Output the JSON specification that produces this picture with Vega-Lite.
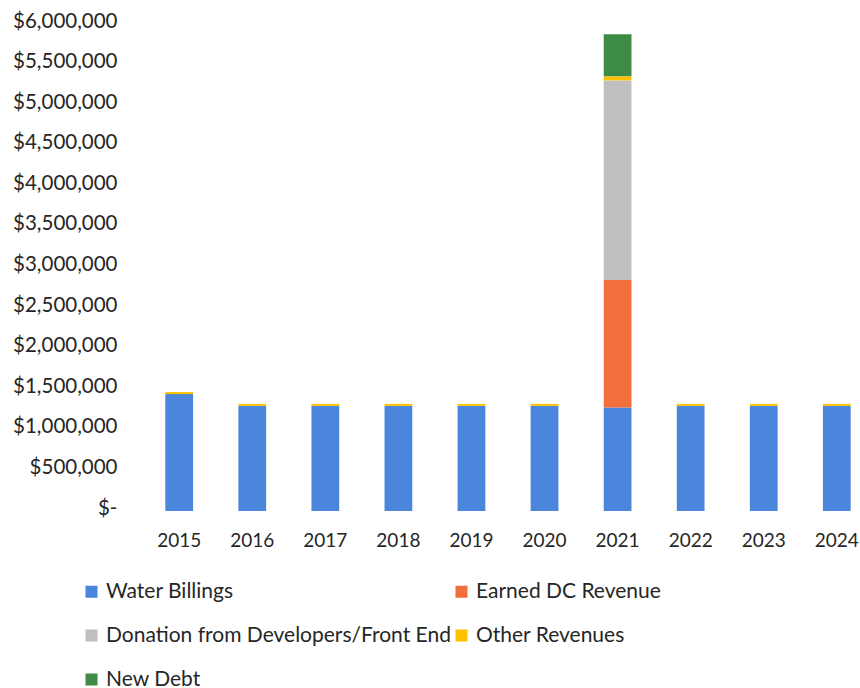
{
  "$schema": "https://vega.github.io/schema/vega-lite/v6.json",
  "width": 700,
  "height": 487,
  "autosize": {"type": "none"},
  "padding": {"left": 158, "top": 24, "right": 2, "bottom": 177},
  "background": "white",
  "config": {
    "view": {"stroke": null},
    "font": "Lato",
    "axis": {"labelFont": "Lato", "labelColor": "#262626", "grid": false, "domain": false, "ticks": false},
    "legend": {"labelFont": "Lato", "labelColor": "#262626"}
  },
  "data": {
    "values": [
      {"year": "2015", "source": "Water Billings", "amount": 1440000},
      {"year": "2015", "source": "Other Revenues", "amount": 25000},
      {"year": "2016", "source": "Water Billings", "amount": 1295000},
      {"year": "2016", "source": "Other Revenues", "amount": 25000},
      {"year": "2017", "source": "Water Billings", "amount": 1295000},
      {"year": "2017", "source": "Other Revenues", "amount": 25000},
      {"year": "2018", "source": "Water Billings", "amount": 1295000},
      {"year": "2018", "source": "Other Revenues", "amount": 25000},
      {"year": "2019", "source": "Water Billings", "amount": 1295000},
      {"year": "2019", "source": "Other Revenues", "amount": 25000},
      {"year": "2020", "source": "Water Billings", "amount": 1295000},
      {"year": "2020", "source": "Other Revenues", "amount": 25000},
      {"year": "2021", "source": "Water Billings", "amount": 1275000},
      {"year": "2021", "source": "Earned DC Revenue", "amount": 1570000},
      {"year": "2021", "source": "Donation from Developers/Front End", "amount": 2460000},
      {"year": "2021", "source": "Other Revenues", "amount": 50000},
      {"year": "2021", "source": "New Debt", "amount": 520000},
      {"year": "2022", "source": "Water Billings", "amount": 1295000},
      {"year": "2022", "source": "Other Revenues", "amount": 25000},
      {"year": "2023", "source": "Water Billings", "amount": 1295000},
      {"year": "2023", "source": "Other Revenues", "amount": 25000},
      {"year": "2024", "source": "Water Billings", "amount": 1295000},
      {"year": "2024", "source": "Other Revenues", "amount": 25000}
    ]
  },
  "transform": [
    {"calculate": "indexof(['Water Billings', 'Earned DC Revenue', 'Donation from Developers/Front End', 'Other Revenues', 'New Debt'], datum.source)", "as": "stackOrder"}
  ],
  "mark": {"type": "bar"},
  "encoding": {
    "x": {
      "field": "year",
      "type": "ordinal",
      "scale": {"paddingInner": 0.62, "paddingOuter": 0.1},
      "axis": {"title": null, "labelAngle": 0, "labelFontSize": 19, "labelPadding": 20}
    },
    "y": {
      "field": "amount",
      "type": "quantitative",
      "aggregate": "sum",
      "stack": "zero",
      "scale": {"domain": [0, 6000000], "nice": false},
      "axis": {
        "title": null,
        "values": [0, 500000, 1000000, 1500000, 2000000, 2500000, 3000000, 3500000, 4000000, 4500000, 5000000, 5500000, 6000000],
        "labelExpr": "datum.value === 0 ? '$-' : '$' + format(datum.value, ',')",
        "labelFontSize": 20.5,
        "labelPadding": 41,
        "labelOffset": -3
      }
    },
    "color": {
      "field": "source",
      "type": "nominal",
      "sort": ["Water Billings", "Earned DC Revenue", "Donation from Developers/Front End", "Other Revenues", "New Debt"],
      "scale": {
        "domain": ["Water Billings", "Earned DC Revenue", "Donation from Developers/Front End", "Other Revenues", "New Debt"],
        "range": ["#4A86DC", "#F26F3C", "#BFBFBF", "#FFC000", "#3E8B45"]
      },
      "legend": {
        "title": null,
        "orient": "none",
        "direction": "horizontal",
        "legendX": -77,
        "legendY": 557,
        "columns": 2,
        "columnPadding": 0,
        "rowPadding": 22,
        "symbolType": "square",
        "symbolSize": 144,
        "symbolStrokeWidth": 0,
        "labelFontSize": 21,
        "labelOffset": 4,
        "labelLimit": 500
      }
    },
    "order": {"field": "stackOrder", "type": "quantitative", "sort": "ascending"}
  }
}
